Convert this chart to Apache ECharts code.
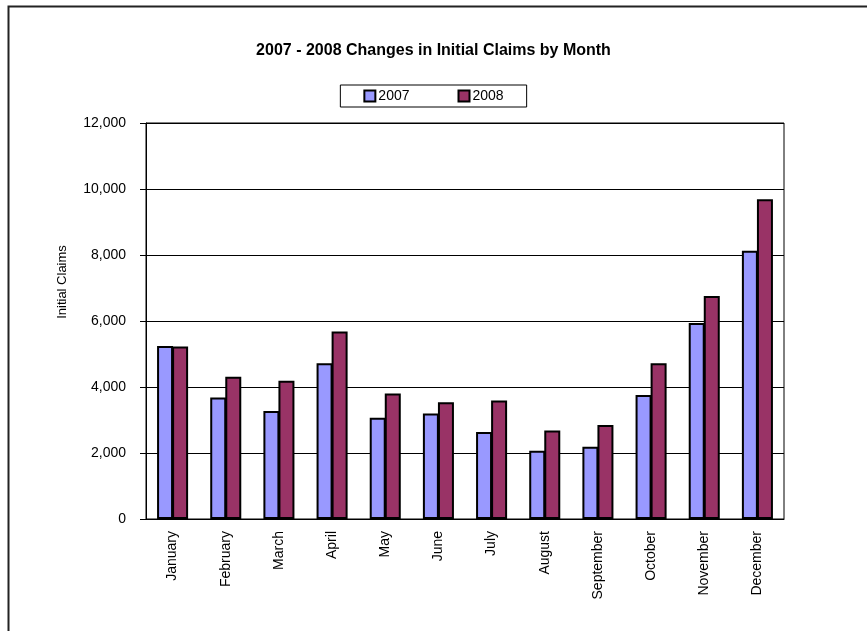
<!DOCTYPE html>
<html>
<head>
<meta charset="utf-8">
<script src="https://cdn.jsdelivr.net/npm/echarts@6/dist/echarts.min.js"></script>
<style>
  html, body { margin: 0; padding: 0; background: #fff; }
  #chart { width: 867px; height: 631px; }
</style>
</head>
<body>
<div id="chart"></div>
<script>
const months = ['January', 'February', 'March', 'April', 'May', 'June', 'July', 'August', 'September', 'October', 'November', 'December']
const claims2007 = [5240, 3680, 3270, 4720, 3070, 3200, 2640, 2070, 2190, 3760, 5940, 8130]
const claims2008 = [5230, 4310, 4190, 5680, 3800, 3540, 3590, 2680, 2850, 4720, 6760, 9690]
const yTicks = [0, 2000, 4000, 6000, 8000, 10000, 12000]

const font = 'Liberation Sans, Arial, sans-serif'
const barStyle = color => ({ color, borderColor: '#000', borderWidth: 2 })

const myChart = echarts.init(document.getElementById('chart'))
const option = {
  animation: false,
  backgroundColor: '#fff',
  textStyle: { fontFamily: font, color: '#000' },
  title: {
    text: '2007 - 2008 Changes in Initial Claims by Month',
    left: 'center',
    top: 38,
    textStyle: { fontFamily: font, fontSize: 16, fontWeight: 'bold', color: '#000' }
  },
  legend: {
    top: 85,
    left: 'center',
    padding: [4, 23, 4, 23],
    itemGap: 48,
    itemWidth: 11,
    itemHeight: 11,
    icon: 'rect',
    borderColor: '#000',
    borderWidth: 1,
    textStyle: { fontFamily: font, fontSize: 14, color: '#000', padding: [0, 0, 0, -2] },
    data: ['2007', '2008']
  },
  grid: {
    left: 146,
    right: 83,
    top: 123,
    bottom: 112,
    show: true,
    borderColor: '#000',
    borderWidth: 1
  },
  xAxis: {
    type: 'category',
    data: months,
    axisLine: { lineStyle: { color: '#000', width: 1 } },
    axisTick: { length: 6, lineStyle: { color: '#000' } },
    axisLabel: { rotate: 90, margin: 12, fontSize: 14, color: '#000', fontFamily: font }
  },
  yAxis: {
    type: 'value',
    min: yTicks[0],
    max: yTicks[yTicks.length - 1],
    interval: 2000,
    name: 'Initial Claims',
    nameLocation: 'middle',
    nameGap: 77,
    nameTextStyle: { fontSize: 13, color: '#000', fontFamily: font, padding: [0, 0, 0, 78] },
    axisLine: { show: true, lineStyle: { color: '#000', width: 1 } },
    axisTick: { show: true, length: 6, lineStyle: { color: '#000' } },
    axisLabel: {
      margin: 20,
      fontSize: 14,
      color: '#000',
      fontFamily: font,
      formatter: v => v.toLocaleString('en-US')
    },
    splitLine: { lineStyle: { color: '#000', width: 1 } }
  },
  series: [
    { name: '2007', type: 'bar', data: claims2007, barWidth: 16, barGap: '-6%', itemStyle: barStyle('#9999ff') },
    { name: '2008', type: 'bar', data: claims2008, barWidth: 16, barGap: '-6%', itemStyle: barStyle('#993366') }
  ],
  graphic: [
    {
      type: 'rect',
      left: 6,
      top: 4,
      shape: { width: 900, height: 700 },
      style: { fill: null, stroke: '#222', lineWidth: 2 },
      silent: true
    }
  ]
}
myChart.setOption(option)
window.addEventListener('resize', () => myChart.resize())
</script>
</body>
</html>
